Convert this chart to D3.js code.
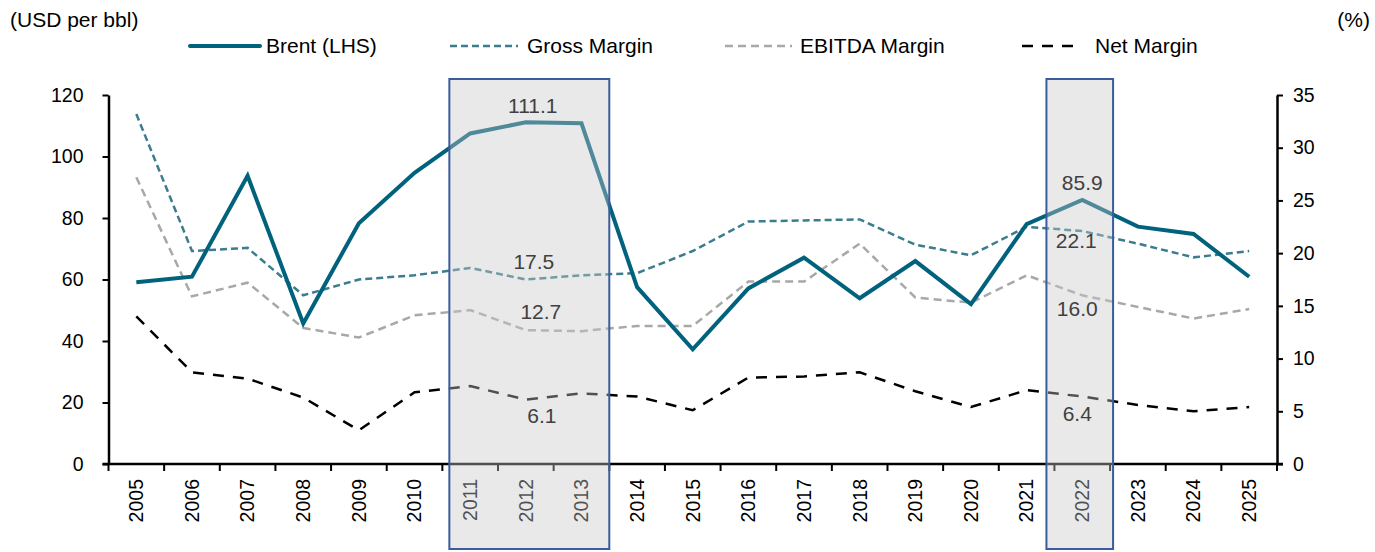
<!DOCTYPE html>
<html><head><meta charset="utf-8">
<script src="https://cdn.jsdelivr.net/npm/d3@7"></script>
<style>body{margin:0;background:#fff;}svg text{font-family:"Liberation Sans",Arial,sans-serif;}</style>
</head><body><svg id="c" width="1375" height="552"></svg>
<script>
const years = ["2005","2006","2007","2008","2009","2010","2011","2012","2013","2014","2015","2016","2017","2018","2019","2020","2021","2022","2023","2024","2025"];
const brent = [59.1,60.9,93.7,45.7,78.3,94.7,107.5,111.1,110.8,57.5,37.3,57.1,67.1,53.9,66.0,52.0,78.0,85.9,77.2,74.8,60.9];
const grossMargin = [33.2,20.2,20.5,16.0,17.5,17.9,18.6,17.5,17.9,18.1,20.2,23.0,23.1,23.2,20.8,19.8,22.5,22.1,20.9,19.6,20.2];
const ebitdaMargin = [27.2,15.9,17.2,12.9,12.0,14.1,14.6,12.7,12.6,13.1,13.1,17.3,17.3,20.9,15.8,15.3,17.9,16.0,14.9,13.8,14.7];
const netMargin = [14.0,8.7,8.1,6.3,3.2,6.8,7.4,6.1,6.7,6.4,5.1,8.2,8.3,8.7,6.9,5.4,7.0,6.4,5.6,5.0,5.4];
const leftTicks = [0,20,40,60,80,100,120];
const rightTicks = [0,5,10,15,20,25,30,35];
const highlights = [["2011","2013"],["2022","2022"]];
const labels = [
  {year:"2012", series:"brent", text:"111.1"},
  {year:"2012", series:"gross", text:"17.5"},
  {year:"2012", series:"ebitda", text:"12.7"},
  {year:"2012", series:"net", text:"6.1"},
  {year:"2022", series:"brent", text:"85.9"},
  {year:"2022", series:"gross", text:"22.1"},
  {year:"2022", series:"ebitda", text:"16.0"},
  {year:"2022", series:"net", text:"6.4"}
];
// label placement offsets (style only)
const labelOffsets = [[7,-9],[8,-11],[15,-11],[16,23],[0,-10],[-6,17],[-5,21],[-5,24]];

const svg = d3.select("#c");
const L = 108.5, R = 1277, T = 95, B = 464;
const x = d3.scaleBand().domain(years).range([L, R]).padding(0);
const yL = d3.scaleLinear().domain([0,120]).range([B, T]);
const yR = d3.scaleLinear().domain([0,35]).range([B, T]);
const cx = d => x(d) + x.bandwidth()/2;

const series = {
  brent: {data: brent, y: yL, color:"#00627c", w:4, dash:null, name:"Brent (LHS)"},
  gross: {data: grossMargin, y: yR, color:"#3b7d8c", w:2.5, dash:"7,4", name:"Gross Margin"},
  ebitda: {data: ebitdaMargin, y: yR, color:"#a8a8a8", w:2.5, dash:"8,5", name:"EBITDA Margin"},
  net: {data: netMargin, y: yR, color:"#000000", w:2.5, dash:"11,9", name:"Net Margin"}
};

// axes
const gL = svg.append("g").attr("transform",`translate(${L},0)`)
  .call(d3.axisLeft(yL).tickValues(leftTicks).tickSize(6).tickSizeOuter(0).tickPadding(19));
const gR = svg.append("g").attr("transform",`translate(${R},0)`)
  .call(d3.axisRight(yR).tickValues(rightTicks).tickSize(6).tickSizeOuter(0).tickPadding(10));
const gB = svg.append("g").attr("transform",`translate(0,${B})`)
  .call(d3.axisBottom(x).tickSize(0).tickSizeOuter(0));
[gL,gR,gB].forEach(g=>{
  g.select(".domain").attr("stroke","#000").attr("stroke-width",2.5);
  g.selectAll(".tick line").attr("stroke","#000").attr("stroke-width",2);
  g.selectAll("text").attr("font-size",19.5).attr("fill","#000").style("font-family","Liberation Sans, Arial, sans-serif");
});
gB.select(".domain").attr("d",`M${L-6},0H${R+6}`);
gB.selectAll(".btick").data(years).enter().append("line")
  .attr("x1",d=>x(d)).attr("x2",d=>x(d)).attr("y1",0).attr("y2",7)
  .attr("stroke","#000").attr("stroke-width",2);
gB.append("line").attr("x1",R).attr("x2",R).attr("y1",0).attr("y2",7).attr("stroke","#000").attr("stroke-width",2);
gB.selectAll(".tick text").attr("transform","rotate(-90)").attr("text-anchor","end")
  .attr("x",-15).attr("y",0).attr("dy","0.35em");

// lines
["net","ebitda","gross","brent"].forEach(k=>{
  const s = series[k];
  const line = d3.line().x((d,i)=>cx(years[i])).y(d=>s.y(d));
  svg.append("path").datum(s.data).attr("d",line).attr("fill","none")
    .attr("stroke",s.color).attr("stroke-width",s.w)
    .attr("stroke-dasharray",s.dash).attr("stroke-linejoin","miter");
});

// highlight boxes
highlights.forEach(([a,b],i)=>{
  const x0 = x(a) + (i===0 ? 7 : -8);
  const x1 = x(b) + x.bandwidth() + (i===0 ? 0 : 3);
  svg.append("rect").attr("x",x0).attr("y",79).attr("width",x1-x0).attr("height",470)
    .attr("fill","rgba(200,200,200,0.4)").attr("stroke","#3a5c9c").attr("stroke-width",2);
});

// data labels
labels.forEach((l,j)=>{
  const s = series[l.series];
  const i = years.indexOf(l.year);
  const yy = s.y(s.data[i]);
  const [dx,dy] = labelOffsets[j];
  svg.append("text").attr("x",cx(l.year)+dx).attr("y", yy+dy)
    .attr("text-anchor","middle").attr("font-size",21).attr("fill","#404040").text(l.text);
});

// titles
svg.append("text").attr("x",10).attr("y",27).attr("font-size",21).text("(USD per bbl)");
svg.append("text").attr("x",1370).attr("y",27).attr("font-size",21).attr("text-anchor","end").text("(%)");

// legend
const leg = [
  {k:"brent", x1:190, x2:260, tx:266},
  {k:"gross", x1:450, x2:518, tx:527},
  {k:"ebitda", x1:725, x2:792, tx:800},
  {k:"net", x1:1022, x2:1082, tx:1095}
];
leg.forEach(d=>{
  const s = series[d.k];
  svg.append("line").attr("x1",d.x1).attr("x2",d.x2).attr("y1",46).attr("y2",46)
    .attr("stroke",s.color).attr("stroke-width",s.w).attr("stroke-dasharray",s.dash)
    .attr("stroke-linecap", d.k==="brent"?"round":"butt");
  svg.append("text").attr("x",d.tx).attr("y",53).attr("font-size",21).attr("fill","#000").text(s.name);
});
</script></body></html>
